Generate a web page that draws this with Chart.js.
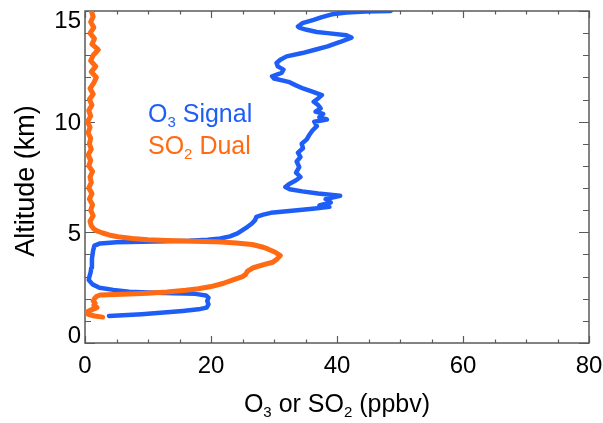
<!DOCTYPE html>
<html>
<head>
<meta charset="utf-8">
<script src="https://cdn.jsdelivr.net/npm/chart.js@4.4.1/dist/chart.umd.min.js"></script>
<style>
  html, body { margin: 0; padding: 0; background: #fff; }
  #wrap { width: 603px; height: 423px; }
</style>
</head>
<body>
<div id="wrap"><canvas id="profile"></canvas></div>
<script>
// O3 profile, ground to 15 km (km / ppbv)
const o3Altitude = [
  1.22, 1.25, 1.30, 1.38, 1.45, 1.52, 1.60, 1.75, 1.90, 2.05,
  2.15, 2.22, 2.25, 2.28, 2.32, 2.40, 2.50, 2.65, 2.85, 3.00,
  3.20, 3.40, 3.60, 3.80, 4.00, 4.20, 4.40, 4.50, 4.55, 4.58,
  4.60, 4.62, 4.66, 4.72, 4.82, 4.95, 5.10, 5.25, 5.40, 5.55,
  5.70, 5.80, 5.88, 5.95, 6.02, 6.08, 6.15, 6.22, 6.35, 6.50,
  6.65, 6.75, 6.85, 6.95, 7.05, 7.20, 7.35, 7.50, 7.70, 7.95,
  8.20, 8.40, 8.60, 8.80, 9.00, 9.20, 9.40, 9.60, 9.80, 10.0,
  10.1, 10.2, 10.35, 10.45, 10.6, 10.75, 10.9, 11.05, 11.2, 11.35,
  11.5, 11.65, 11.8, 11.95, 12.05, 12.2, 12.35, 12.5, 12.65, 12.8,
  12.95, 13.1, 13.25, 13.4, 13.6, 13.8, 13.9, 14.0, 14.05, 14.15,
  14.25, 14.3, 14.45, 14.6, 14.72, 14.85, 14.93, 14.98, 15.0
];
const o3Ppbv = [
  3.8, 6.0, 9.0, 12.5, 15.5, 18.0, 19.3, 19.6, 19.4, 19.6,
  19.2, 17.5, 14.0, 10.0, 7.0, 4.5, 2.3, 1.2, 0.6, 0.7,
  0.9, 1.0, 1.1, 1.1, 1.2, 1.3, 1.5, 2.4, 5.0, 9.0,
  13.0, 16.5, 19.5, 21.5, 23.0, 24.2, 25.0, 25.8, 26.5, 27.0,
  27.2, 28.3, 29.5, 32.0, 34.5, 36.5, 38.8, 37.2, 39.0, 38.2,
  40.5, 37.0, 34.5, 32.5, 31.8, 32.5, 33.5, 34.2, 33.5, 34.0,
  33.6, 34.2, 33.8, 34.6, 34.4, 35.2, 35.6, 36.1, 36.8, 36.4,
  38.4, 37.2, 37.8, 36.6, 37.4, 37.0, 36.3, 37.0, 37.6, 36.2,
  34.6, 33.4, 32.3, 30.0, 29.7, 31.2, 31.5, 30.6, 30.4, 31.0,
  32.0, 34.5, 36.5, 38.5, 40.5, 42.3, 41.5, 38.5, 36.8, 35.2,
  34.0, 33.8, 34.5, 36.3, 37.6, 39.2, 41.5, 44.5, 48.5
];

// SO2 profile, ground to 15 km (km / ppbv)
const so2Altitude = [
  1.17, 1.22, 1.30, 1.40, 1.50, 1.60, 1.70, 1.80, 1.90, 2.00,
  2.10, 2.17, 2.20, 2.25, 2.30, 2.38, 2.45, 2.55, 2.70, 2.85,
  3.00, 3.10, 3.25, 3.40, 3.55, 3.65, 3.80, 3.95, 4.10, 4.25,
  4.35, 4.45, 4.52, 4.57, 4.60, 4.63, 4.67, 4.72, 4.80, 4.88,
  4.97, 5.05, 5.15, 5.30, 5.50, 5.75, 6.00, 6.25, 6.50, 6.75,
  7.00, 7.25, 7.50, 7.75, 8.00, 8.25, 8.50, 8.75, 9.00, 9.25,
  9.50, 9.75, 10.0, 10.25, 10.5, 10.75, 11.0, 11.25, 11.5, 11.75,
  12.0, 12.25, 12.5, 12.75, 13.0, 13.25, 13.5, 13.75, 14.0, 14.25,
  14.5, 14.75, 15.0
];
const so2Ppbv = [
  2.8, 1.5, 0.5, 0.3, 1.0, 1.9, 1.4, 1.6, 1.3, 1.5,
  1.8, 2.4, 6.0, 10.0, 13.0, 16.0, 18.0, 20.0, 22.0, 23.5,
  25.0, 25.5, 25.8, 26.7, 28.5, 29.8, 30.5, 31.0, 30.2, 29.0,
  28.0, 26.5, 24.0, 21.0, 17.0, 13.0, 10.0, 7.5, 5.2, 3.8,
  2.8, 2.0, 1.4, 1.0, 0.8, 1.3, 0.9, 1.2, 0.7, 1.1,
  0.6, 1.0, 0.8, 1.2, 0.6, 0.9, 0.5, 1.0, 0.7, 0.9,
  0.5, 0.8, 0.4, 0.9, 0.6, 1.1, 0.7, 1.3, 0.8, 1.4,
  1.8, 1.0, 1.7, 0.9, 1.3, 2.1, 1.1, 1.5, 0.8, 1.4,
  0.9, 1.3, 1.0
];

const xTicks = [0, 20, 40, 60, 80];
const yTicks = [0, 5, 10, 15];

const BLUE = '#1f5ef6';
const ORANGE = '#ff6a12';
const FONT = "'Liberation Sans', Arial, Helvetica, sans-serif";

function toPoints(xs, ys) {
  return xs.map((v, i) => ({ x: v, y: ys[i] }));
}

// text runs with subscripts: [text, isSub]
function drawRuns(ctx, runs, x, y, size, align) {
  const subSize = Math.round(size * 0.6);
  const widths = runs.map(([t, sub]) => {
    ctx.font = `${sub ? subSize : size}px ${FONT}`;
    return ctx.measureText(t).width;
  });
  const total = widths.reduce((s, w) => s + w, 0);
  let cx = align === 'center' ? x - total / 2 : x;
  ctx.textAlign = 'left';
  ctx.textBaseline = 'alphabetic';
  runs.forEach(([t, sub], i) => {
    ctx.font = `${sub ? subSize : size}px ${FONT}`;
    ctx.fillText(t, cx, sub ? y + size * 0.18 : y);
    cx += widths[i];
  });
}

// box frame with inward ticks on all four sides, labels and titles
const profileFrame = {
  id: 'profileFrame',
  beforeDatasetsDraw(chart) {
    const { ctx, chartArea: a, scales: { x, y } } = chart;
    ctx.save();
    ctx.strokeStyle = '#5a5a5a';
    ctx.lineWidth = 1.5;
    ctx.strokeRect(a.left, a.top, a.right - a.left, a.bottom - a.top);
    ctx.lineWidth = 1.2;
    ctx.beginPath();
    for (let v = x.min; v <= x.max; v += 5) {
      const px = Math.round(x.getPixelForValue(v)) + 0.5;
      const len = v % 20 === 0 ? 7 : 3.5;
      ctx.moveTo(px, a.bottom); ctx.lineTo(px, a.bottom - len);
      ctx.moveTo(px, a.top); ctx.lineTo(px, a.top + len);
    }
    for (let v = y.min; v <= y.max; v += 1) {
      const py = Math.round(y.getPixelForValue(v)) + 0.5;
      const len = v % 5 === 0 ? 10 : 6;
      ctx.moveTo(a.left, py); ctx.lineTo(a.left + len, py);
      ctx.moveTo(a.right, py); ctx.lineTo(a.right - len, py);
    }
    ctx.stroke();
    ctx.restore();
  },
  afterDraw(chart) {
    const { ctx, chartArea: a, scales: { x, y } } = chart;
    ctx.save();
    ctx.fillStyle = '#000';
    ctx.font = `24px ${FONT}`;

    ctx.textAlign = 'center';
    ctx.textBaseline = 'alphabetic';
    xTicks.forEach(v => ctx.fillText(String(v), x.getPixelForValue(v), a.bottom + 30));

    // end labels are kept inside the axis span
    ctx.textAlign = 'right';
    const digitH = 17.2;
    yTicks.forEach(v => {
      let base = y.getPixelForValue(v) + digitH / 2;
      base = Math.min(base, a.bottom);
      base = Math.max(base, a.top + digitH);
      ctx.fillText(String(v), a.left - 4, base);
    });

    drawRuns(ctx, [['O', 0], ['3', 1], [' or SO', 0], ['2', 1], [' (ppbv)', 0]],
      (a.left + a.right) / 2, 412, 25, 'center');

    ctx.save();
    ctx.translate(34, (a.top + a.bottom) / 2 + 4);
    ctx.rotate(-Math.PI / 2);
    ctx.font = `27px ${FONT}`;
    ctx.textAlign = 'center';
    ctx.textBaseline = 'alphabetic';
    ctx.fillText('Altitude (km)', 0, 0);
    ctx.restore();

    ctx.fillStyle = BLUE;
    drawRuns(ctx, [['O', 0], ['3', 1], [' Signal', 0]], 148, 122, 25, 'left');
    ctx.fillStyle = ORANGE;
    drawRuns(ctx, [['SO', 0], ['2', 1], [' Dual', 0]], 148, 154, 25, 'left');
    ctx.restore();
  }
};

new Chart(document.getElementById('profile'), {
  type: 'scatter',
  data: {
    datasets: [
      {
        label: 'SO2 Dual',
        data: toPoints(so2Ppbv, so2Altitude),
        showLine: true,
        borderColor: ORANGE,
        backgroundColor: ORANGE,
        borderWidth: 5,
        borderJoinStyle: 'round',
        borderCapStyle: 'round',
        pointRadius: 0,
        order: 0
      },
      {
        label: 'O3 Signal',
        data: toPoints(o3Ppbv, o3Altitude),
        showLine: true,
        borderColor: BLUE,
        backgroundColor: BLUE,
        borderWidth: 4.5,
        borderJoinStyle: 'round',
        borderCapStyle: 'round',
        pointRadius: 0,
        order: 1
      }
    ]
  },
  options: {
    responsive: true,
    maintainAspectRatio: false,
    animation: false,
    layout: { padding: { left: 85, right: 14, top: 11, bottom: 80 } },
    plugins: { legend: { display: false }, tooltip: { enabled: false } },
    scales: {
      x: { type: 'linear', min: 0, max: 80, display: false },
      y: { type: 'linear', min: 0, max: 15, display: false }
    }
  },
  plugins: [profileFrame]
});
</script>
</body>
</html>
